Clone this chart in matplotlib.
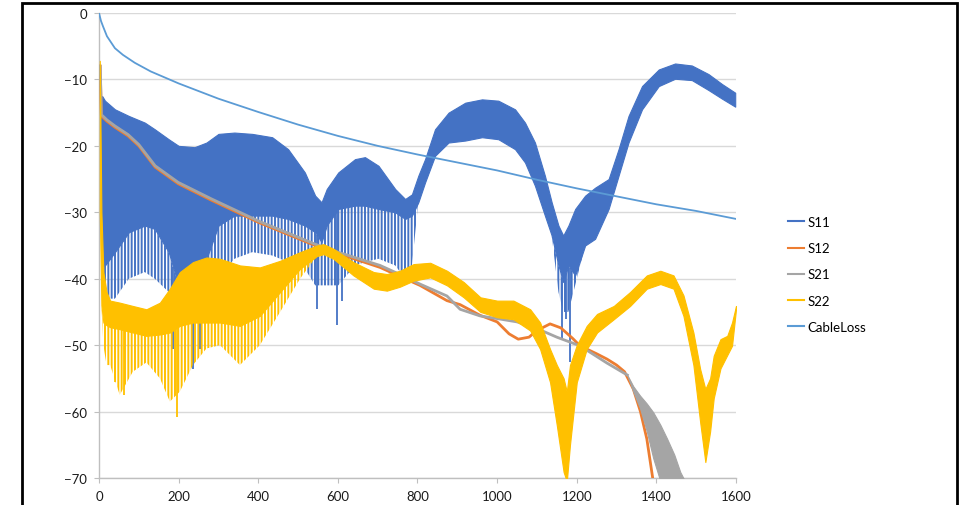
import numpy as np
import matplotlib
matplotlib.use('Agg')
import matplotlib.pyplot as plt
from matplotlib.lines import Line2D
from matplotlib.patches import Rectangle

plt.rcParams['font.family'] = ['Lato', 'DejaVu Sans']
plt.rcParams['hatch.linewidth'] = 1.4

# ---- data (MHz, dB) ----
cable_f = [0, 5, 10, 20, 40, 60, 90, 130, 200, 300, 400, 500, 600, 700, 800,
           900, 1000, 1100, 1200, 1300, 1400, 1500, 1600]
cable_db = [0, -1.2, -2, -3.5, -5.3, -6.3, -7.5, -8.8, -10.6, -12.9, -14.9, -16.8,
            -18.5, -20, -21.3, -22.5, -23.7, -25.1, -26.4, -27.6, -28.8, -29.8, -31]

s12_f = [3, 6, 20, 40, 73, 100, 141, 199, 283, 400, 543, 600, 706, 750, 806, 874,
         907, 957, 1000, 1030, 1053, 1080, 1100, 1133, 1160, 1190, 1208, 1250,
         1276, 1300, 1320, 1342, 1360, 1376, 1392]
s12_db = [-8, -15.5, -16.3, -17.2, -18.5, -20, -23.2, -25.7, -28.2, -31.5, -35,
          -36.2, -38.3, -39.5, -41, -43.3, -43.9, -45.5, -46.5, -48.3, -49.1,
          -48.8, -47.8, -46.8, -47.4, -49, -50.1, -51.3, -52.1, -53, -54, -56.6,
          -60, -64.1, -70.5]

s21_f = [3, 6, 20, 40, 73, 100, 141, 199, 283, 400, 543, 600, 706, 750, 806, 874,
         907, 957, 1000, 1050, 1100, 1150, 1208, 1276, 1327]
s21_db = [-8, -15.3, -16.1, -17, -18.3, -19.8, -23, -25.5, -28, -31.3, -34.8,
          -36, -38, -39.2, -40.8, -42.6, -44.6, -45.6, -46, -46.5, -47.5, -48.8,
          -50.1, -52.7, -54.5]
s21_tail_f = [1327, 1342, 1359, 1376, 1392, 1410, 1427, 1445, 1460, 1472]
s21_tail_hi = [-54.5, -56.2, -57.6, -58.8, -60.1, -62, -64.1, -66.5, -69.1, -70.5]
s21_tail_lo = [-54.5, -57, -59.5, -63, -67, -70.5, -70.5, -70.5, -70.5, -70.5]

s11_f = [5, 8, 15, 40, 75, 115, 140, 175, 200, 240, 270, 300, 340, 385, 435, 475,
         517, 543, 559, 572, 601, 643, 668, 702, 744, 769, 786, 802, 819, 844,
         878, 920, 962, 1003, 1045, 1070, 1095, 1120, 1137, 1154, 1166, 1179,
         1196, 1221, 1246, 1280, 1305, 1330, 1364, 1406, 1447, 1489, 1531, 1565,
         1598]
s11_hi = [-13, -12.5, -13.2, -14.5, -15.5, -16.5, -17.5, -19, -20, -20.2, -19.5,
          -18.2, -18, -18.2, -18.7, -20.5, -24, -27.5, -28.5, -26.5, -24, -22,
          -21.7, -23, -26.5, -28, -27.3, -24.5, -22, -17.5, -15, -13.5, -13,
          -13.2, -14.5, -16.5, -19.5, -24.5, -28.5, -32, -33.5, -32, -29.5, -27.5,
          -26.3, -25, -20.5, -15.5, -11, -8.5, -7.6, -7.9, -9.2, -10.7, -12]
s11_lo = [-30, -38, -38, -36, -33, -32, -32.5, -36, -41, -40, -37, -32, -30.5,
          -30.5, -30.5, -31, -32, -33, -34.5, -32, -29.5, -29, -29, -29.5, -30,
          -31, -30.5, -28.5, -25.5, -21.5, -19.5, -19.2, -18.7, -19, -20.5,
          -22.5, -26, -30.5, -33.5, -38, -40.5, -38, -39.5, -35, -34, -29.5,
          -24.5, -19.5, -14.5, -11, -9.9, -10.1, -11.6, -12.9, -14.1]
# tips of the downward comb below the solid band
s11_comb = [-30, -40, -43, -43, -40, -39, -40, -42, -44, -44, -43, -40, -37,
            -36, -36.5, -37.5, -38.5, -41, -41, -41, -41, -38, -37.5, -37, -38,
            -40, -38, -28.5, -25.5, -21.5, -19.5, -19.2, -18.7, -19, -20.5, -22.5,
            -26, -30.5, -33.5, -42, -45, -45, -41, -35, -34, -29.5, -24.5, -19.5,
            -14.5, -11, -9.9, -10.1, -11.6, -12.9, -14.1]
s11_deep_f = [186, 236, 253, 547, 597, 610, 1163, 1172, 1183]
s11_deep_db = [-50.6, -53.6, -50.6, -44.6, -47, -43.4, -49.1, -46, -52.6]

s22_f = [2, 6, 11, 19, 28, 52, 85, 119, 153, 178, 203, 236, 270, 304, 354, 404,
         455, 505, 547, 564, 589, 639, 690, 723, 756, 790, 832, 874, 916, 958,
         1000, 1041, 1083, 1108, 1133, 1150, 1167, 1175, 1183, 1200, 1225, 1251,
         1293, 1334, 1376, 1410, 1443, 1468, 1493, 1510, 1523, 1535, 1544, 1561,
         1578, 1590, 1600]
s22_hi = [-7.2, -30, -39, -42, -43.3, -43.6, -44.1, -44.6, -43.6, -41.5, -39,
          -37.5, -36.8, -37, -38, -38.3, -37.3, -36, -35, -34.8, -35.5, -37.5,
          -39, -39.3, -38.8, -37.8, -37.6, -38.8, -40.5, -42.8, -43.3, -43.3,
          -44.6, -46.6, -50.6, -53, -55, -57, -53, -50, -47.1, -45.3, -44.1, -42,
          -39.5, -38.8, -39.5, -42.5, -48.1, -53.6, -56.6, -55, -51.6, -49.1,
          -48.6, -46.6, -44.1]
s22_lo = [-30, -44, -46.6, -47, -47.3, -47.6, -48.1, -48.6, -48.4, -48.1, -47.1,
          -46.6, -46.6, -46.6, -47.1, -45.6, -42, -38.5, -36.6, -36.3, -37,
          -39.5, -41.5, -41.8, -41.2, -40.3, -39.8, -41, -42.8, -45, -45.8,
          -46.1, -47.8, -50.6, -55.6, -62.1, -69.1, -70.5, -65, -55.6, -50.6,
          -48.1, -46.1, -44.1, -41.5, -40.8, -41.5, -45.6, -53, -61.6, -67.6,
          -63, -58, -53.5, -51.5, -50.1, -44.6]
s22_comb = [-30, -44, -50, -53, -53, -57.5, -54, -52.6, -55, -58.5, -57, -53,
            -50.5, -50, -53, -50, -45, -40, -36.6, -36.3, -37, -39.5, -41.5,
            -41.8, -41.2, -40.3, -39.8, -41, -42.8, -45, -45.8, -46.1, -47.8,
            -50.6, -55.6, -62.1, -69.1, -70.5, -65, -55.6, -50.6, -48.1, -46.1,
            -44.1, -41.5, -40.8, -41.5, -45.6, -53, -61.6, -67.6, -63, -58, -53.5,
            -51.5, -50.1, -44.6]
s22_deep_f = [40, 62, 195]
s22_deep_db = [-55.5, -57.5, -60.8]

names = ['S11', 'S12', 'S21', 'S22', 'CableLoss']
colors = ['#4472C4', '#ED7D31', '#A5A5A5', '#FFC000', '#5B9BD5']

fig = plt.figure(figsize=(9.69, 5.06), dpi=100)
ax = fig.add_axes([99 / 969, 1 - 479 / 506, 637 / 969, 465 / 506])

# S11
c = colors[0]
ax.fill_between(s11_f, s11_lo, s11_hi, color=c, lw=0.8, zorder=2)
ax.fill_between(s11_f, s11_comb, s11_lo, facecolor='none', edgecolor=c,
                hatch='|||||', lw=0, zorder=2)
ax.vlines(s11_deep_f, s11_deep_db, np.interp(s11_deep_f, s11_f, s11_lo),
          color=c, lw=1.3, zorder=2)

# S12
ax.plot(s12_f, s12_db, color=colors[1], lw=2, zorder=3)

# S21
ax.plot(s21_f, s21_db, color=colors[2], lw=2, zorder=3)
ax.fill_between(s21_tail_f, s21_tail_lo, s21_tail_hi, color=colors[2], lw=0.8,
                zorder=3)

# S22
c = colors[3]
ax.fill_between(s22_f, s22_lo, s22_hi, color=c, lw=0.8, zorder=4)
ax.fill_between(s22_f, s22_comb, s22_lo, facecolor='none', edgecolor=c,
                hatch='|||||', lw=0, zorder=4)
ax.vlines(s22_deep_f, s22_deep_db, np.interp(s22_deep_f, s22_f, s22_lo),
          color=c, lw=1.3, zorder=4)

# CableLoss
ax.plot(cable_f, cable_db, color=colors[4], lw=1.3, zorder=5)

ax.set_xlim(0, 1600)
ax.set_ylim(-70, 0)
ax.set_xticks(range(0, 1601, 200))
ax.set_yticks(range(-70, 1, 10))
ax.yaxis.grid(True, color='#D9D9D9', lw=1)
ax.set_axisbelow(True)
for s in ['top', 'right']:
    ax.spines[s].set_visible(False)
for s in ['left', 'bottom']:
    ax.spines[s].set_color('#BFBFBF')
    ax.spines[s].set_linewidth(1)
ax.tick_params(axis='both', length=3.5, color='#BFBFBF', labelsize=9.5,
               labelcolor='#1a1a1a')
ax.tick_params(axis='y', pad=5)
ax.tick_params(axis='x', pad=5)

handles = [Line2D([], [], color=col, lw=1.5) for col in colors]
fig.legend(handles, names, loc='upper left', bbox_to_anchor=(788 / 969, 1 - 217 / 506),
           frameon=False, fontsize=9.5, handlelength=1.25, handletextpad=0.2,
           labelspacing=1.08, borderaxespad=0, borderpad=0)

fig.add_artist(Rectangle((22 / 969, -0.1), 935 / 969, 1.1 - 4 / 506,
                         transform=fig.transFigure, fill=False, ec='black',
                         lw=2, clip_on=False))

fig.savefig('out.png', dpi=100)
